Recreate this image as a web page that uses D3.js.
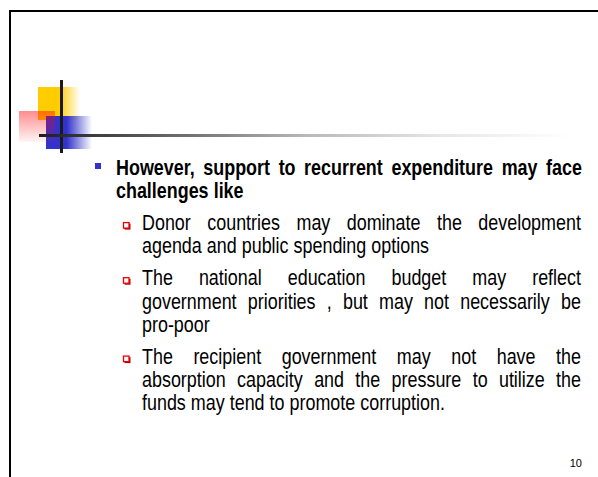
<!DOCTYPE html>
<html>
<head>
<meta charset="utf-8">
<script src="https://cdn.jsdelivr.net/npm/d3@7"></script>
<style>
  html, body { margin: 0; padding: 0; background: #fff; }
  svg { display: block; }
</style>
</head>
<body>
<svg id="slide" width="598" height="477"></svg>
<script>
// ---- content ----
const headingLines = [
  "However, support to recurrent expenditure may face",
  "challenges like"
];
const subBullets = [
  ["Donor countries may dominate the development",
   "agenda and public spending options"],
  ["The national education budget may reflect",
   "government priorities , but may not necessarily be",
   "pro-poor"],
  ["The recipient government may not have the",
   "absorption capacity and the pressure to utilize the",
   "funds may tend to promote corruption."]
];
const pageNumber = "10";

// ---- setup ----
const W = 598, H = 477;
const svg = d3.select("#slide");
const defs = svg.append("defs");

const family = "'Liberation Sans', Arial, sans-serif";
const sx = 0.815;          // condensed (Arial Narrow look)
const fontSize = 22;

function measure(weight, str) {
  const t = svg.append("text").attr("font-family", family).attr("font-weight", weight)
    .attr("font-size", fontSize).text(str);
  const w = t.node().getComputedTextLength();
  t.remove();
  return w;
}

// ---- frame ----
svg.append("rect").attr("width", W).attr("height", H).attr("fill", "#fff");
svg.append("line").attr("x1", 9).attr("x2", W).attr("y1", 11).attr("y2", 11)
  .attr("stroke", "#000").attr("stroke-width", 2);
svg.append("line").attr("x1", 10).attr("x2", 10).attr("y1", 10).attr("y2", H)
  .attr("stroke", "#000").attr("stroke-width", 2);

// ---- decoration ----
function hGrad(id, color, solidTo) {
  const g = defs.append("linearGradient").attr("id", id).attr("x1", 0).attr("x2", 1).attr("y1", 0).attr("y2", 0);
  g.append("stop").attr("offset", 0).attr("stop-color", color).attr("stop-opacity", 1);
  g.append("stop").attr("offset", solidTo).attr("stop-color", color).attr("stop-opacity", 1);
  g.append("stop").attr("offset", 1).attr("stop-color", color).attr("stop-opacity", 0);
}
hGrad("gYellow", "#ffcc00", 0.5);
hGrad("gBlue", "#3333cc", 0.45);
const gr = defs.append("linearGradient").attr("id", "gRed").attr("x1", 0).attr("x2", 0).attr("y1", 0).attr("y2", 1);
gr.append("stop").attr("offset", 0).attr("stop-color", "#ff0000").attr("stop-opacity", 0.45);
gr.append("stop").attr("offset", 1).attr("stop-color", "#ff0000").attr("stop-opacity", 0.04);
const gl = defs.append("linearGradient").attr("id", "gLine").attr("gradientUnits", "userSpaceOnUse")
  .attr("x1", 39).attr("x2", 572).attr("y1", 0).attr("y2", 0);
[[0, "#1e1e1e"], [0.3, "#777"], [0.5, "#b8b8b8"], [0.75, "#e6e6e6"], [1, "#ffffff"]]
  .forEach(([o, c]) => gl.append("stop").attr("offset", o).attr("stop-color", c));

svg.append("rect").attr("x", 38).attr("y", 87).attr("width", 42).attr("height", 33).attr("fill", "url(#gYellow)");
svg.append("rect").attr("x", 46).attr("y", 116).attr("width", 46).attr("height", 33).attr("fill", "url(#gBlue)");
svg.append("rect").attr("x", 19).attr("y", 111).attr("width", 36).attr("height", 31).attr("fill", "url(#gRed)");
svg.append("rect").attr("x", 60).attr("y", 80).attr("width", 3).attr("height", 73).attr("fill", "#1a1a1a");
svg.append("rect").attr("x", 39).attr("y", 134).attr("width", 533).attr("height", 3).attr("fill", "url(#gLine)");

// ---- text layout ----
const lineH = 23.3, paraGap = 8.5;
const blocks = [{ level: 0, lines: headingLines }].concat(subBullets.map(l => ({ level: 1, lines: l })));
let y = 175;
const placed = [];
blocks.forEach((b, bi) => {
  if (bi > 0) y += paraGap + lineH;
  b.baselines = [];
  b.lines.forEach((ln, li) => {
    if (li > 0) y += lineH;
    b.baselines.push(y);
    placed.push({ level: b.level, text: ln, y: y, last: li === b.lines.length - 1 });
  });
});

const indent = [{ x: 116, right: 582, weight: "bold" }, { x: 142, right: 581, weight: "normal" }];

const textG = svg.append("g").attr("font-family", family).attr("font-size", fontSize).attr("fill", "#000");
placed.forEach(p => {
  const cfg = indent[p.level];
  const words = p.text.split(" ");
  const spW = measure(cfg.weight, "a a") - measure(cfg.weight, "aa");
  const widths = words.map(w => measure(cfg.weight, w) * sx);
  const total = d3.sum(widths);
  let gap = spW * sx;
  if (!p.last && words.length > 1) gap = (cfg.right - cfg.x - total) / (words.length - 1);
  let x = cfg.x;
  words.forEach((w, i) => {
    textG.append("text").attr("font-weight", cfg.weight)
      .attr("transform", `translate(${x},${p.y}) scale(${sx},1)`).text(w);
    x += widths[i] + gap;
  });
});

// bullets
blocks.forEach(b => {
  const by = b.baselines[0];
  if (b.level === 0) {
    svg.append("rect").attr("x", 95).attr("y", by - 12).attr("width", 6).attr("height", 6).attr("fill", "#3333cc");
  } else {
    svg.append("rect").attr("x", 124.5).attr("y", by - 6.5).attr("width", 6).attr("height", 6).attr("fill", "#b00000");
    svg.append("rect").attr("x", 123.5).attr("y", by - 7.5).attr("width", 5.5).attr("height", 5.5)
      .attr("fill", "#fff").attr("stroke", "#ee0000").attr("stroke-width", 1.3);
  }
});

// page number
svg.append("text").attr("x", 582).attr("y", 467).attr("text-anchor", "end")
  .attr("font-family", "'Liberation Sans', Arial").attr("font-size", 11).attr("fill", "#000").text(pageNumber);
</script>
</body>
</html>
